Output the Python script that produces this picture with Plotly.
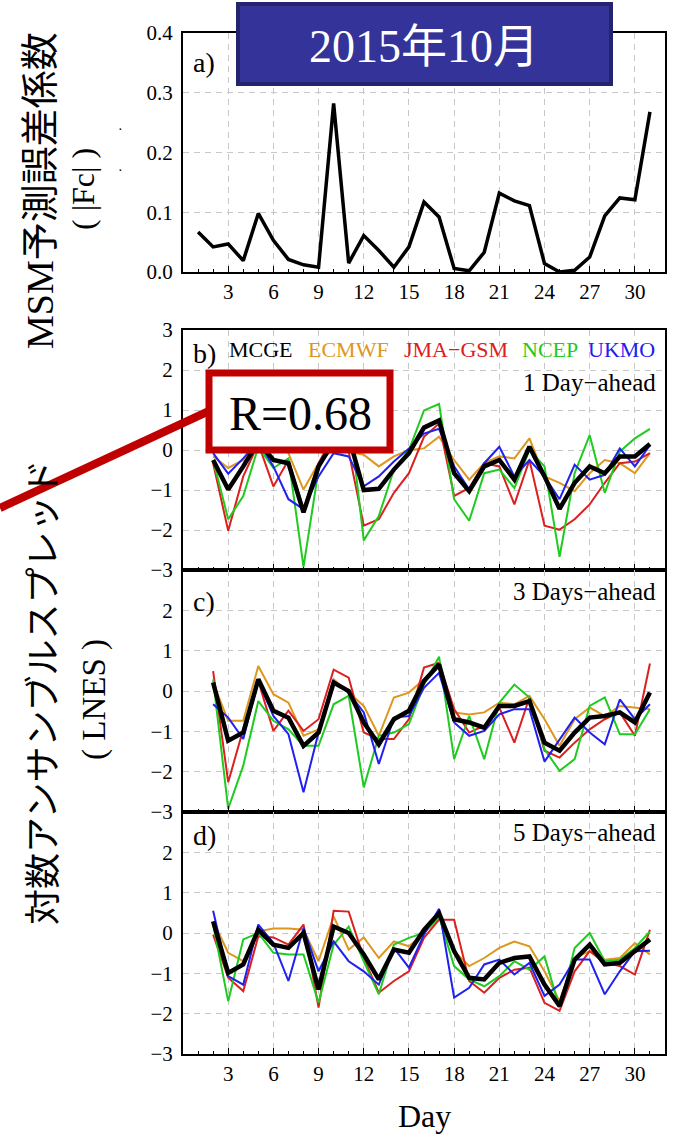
import plotly.graph_objects as go

# ---------------- data ----------------
days_a = list(range(1, 32))
fc_a = [0.067, 0.042, 0.047, 0.019, 0.098, 0.053, 0.021, 0.012, 0.008, 0.282,
        0.015, 0.061, 0.036, 0.008, 0.042, 0.117, 0.092, 0.006, 0.002, 0.033,
        0.132, 0.119, 0.111, 0.014, 0.000, 0.003, 0.025, 0.094, 0.124, 0.121, 0.268]

days = list(range(2, 32))

# panel b: 1 Day-ahead
b_mcge = [-0.25, -0.99, -0.41, 0.21, -0.25, -0.33, -1.56, -0.41, 0.21, 0.33,
          -1.00, -0.97, -0.49, -0.08, 0.56, 0.74, -0.58, -1.03, -0.41, -0.25,
          -0.74, 0.08, -0.66, -1.47, -0.82, -0.41, -0.58, -0.16, -0.16, 0.15]
b_ecmwf = [-0.16, -0.45, -0.25, 0.33, 0.37, -0.08, -0.99, -0.33, 0.04, -0.04,
           -0.12, -0.41, -0.16, 0.00, 0.04, 0.33, -0.25, -0.74, -0.33, -0.16,
           -0.21, 0.29, -0.66, -0.82, -1.03, -0.58, -0.25, -0.33, -0.58, -0.08]
b_jma = [-0.33, -2.02, -0.66, 0.16, -0.91, -0.25, -1.48, -0.33, 0.37, -0.04,
         -1.89, -1.73, -1.07, -0.58, 0.33, 0.66, -1.15, -0.95, -0.33, -0.41,
         -1.36, -0.25, -1.89, -1.99, -1.73, -1.36, -0.82, -0.33, -0.29, -0.08]
b_ncep = [-0.25, -1.73, -1.15, 0.08, -0.45, -0.21, -2.92, -0.49, 0.45, 0.99,
          -2.26, -1.65, -0.49, 0.00, 0.99, 1.15, -1.23, -1.77, -0.58, -0.49,
          -0.95, 0.00, -0.41, -2.67, -0.58, 0.37, -1.07, -0.04, 0.29, 0.53]
b_ukmo = [-0.08, -0.59, -0.21, 0.21, -0.41, -1.23, -1.48, -0.66, -0.08, -0.16,
          -0.91, -0.66, -0.29, 0.04, 0.41, 0.53, -0.41, -0.99, -0.33, 0.08,
          -0.66, -0.25, -0.66, -1.23, -0.37, -0.74, -0.62, 0.04, -0.41, 0.12]

# panel c: 3 Days-ahead
c_mcge = [0.21, -1.23, -1.03, 0.29, -0.49, -0.66, -1.36, -1.03, 0.21, 0.00,
          -0.78, -1.32, -0.70, -0.49, 0.25, 0.66, -0.70, -0.78, -0.91, -0.37,
          -0.37, -0.25, -1.28, -1.48, -1.03, -0.66, -0.62, -0.53, -0.78, -0.04]
c_ecmwf = [0.21, -0.74, -0.74, 0.62, -0.08, -0.29, -1.11, -0.95, 0.29, -0.04,
           -0.37, -1.11, -0.16, -0.04, 0.29, 0.66, -0.53, -0.58, -0.53, -0.29,
           -0.33, -0.12, -0.70, -1.36, -0.70, -0.41, -0.62, -0.37, -0.41, -0.45]
c_jma = [0.49, -2.26, -0.95, 0.25, -0.99, -0.49, -0.99, -0.70, 0.53, 0.33,
         -1.03, -1.19, -1.19, -0.70, 0.58, 0.70, -0.45, -1.03, -0.86, -0.41,
         -1.28, -0.16, -1.48, -1.65, -1.28, -0.95, -0.70, -0.53, -1.11, 0.68]
c_ncep = [0.29, -2.92, -1.85, -0.25, -0.74, -0.95, -1.36, -1.36, -0.33, -0.12,
          -2.39, -1.11, -1.03, -0.82, 0.16, 0.85, -1.69, -0.62, -1.69, -0.29,
          0.16, -0.16, -1.44, -1.98, -1.69, -0.37, -0.16, -1.07, -1.07, -0.45]
c_ukmo = [-0.33, -0.66, -1.19, 0.25, -0.62, -1.07, -2.51, -1.03, 0.25, -0.04,
          -0.53, -1.81, -0.66, -0.62, 0.08, 0.45, -0.78, -1.11, -0.99, -0.58,
          -0.45, -0.45, -1.75, -1.19, -0.66, -1.03, -1.32, -0.21, -0.70, -0.33]

# panel d: 5 Days-ahead
d_mcge = [0.29, -0.99, -0.78, 0.08, -0.29, -0.37, 0.00, -1.40, 0.16, 0.00,
          -0.53, -1.15, -0.41, -0.49, 0.08, 0.49, -0.45, -1.11, -1.15, -0.74,
          -0.62, -0.58, -1.28, -1.81, -0.66, -0.29, -0.78, -0.74, -0.45, -0.16]
d_ecmwf = [0.29, -0.49, -0.70, 0.04, 0.11, 0.11, 0.08, -0.70, 0.41, -0.41,
           -0.11, -0.62, -0.21, -0.33, 0.00, 0.37, -0.45, -0.82, -0.62, -0.37,
           -0.21, -0.33, -0.95, -1.69, -0.62, -0.45, -0.66, -0.62, -0.25, -0.53]
d_jma = [-0.04, -1.11, -1.44, -0.08, -0.11, -0.29, 0.21, -1.85, 0.55, 0.53,
         -0.62, -1.48, -1.19, -0.95, -0.12, 0.33, 0.33, -1.19, -1.48, -1.11,
         -0.91, -0.86, -1.73, -1.93, -0.95, -0.45, -0.74, -0.82, -1.03, 0.08]
d_ncep = [0.21, -1.69, -0.16, 0.00, -0.49, -0.53, -0.53, -1.73, -0.29, 0.16,
          -0.70, -1.52, -0.29, -0.12, 0.00, 0.41, -0.82, -1.15, -1.32, -1.07,
          -0.70, -0.91, -0.58, -1.85, -0.37, 0.00, -0.70, -0.66, -0.37, 0.04]
d_ukmo = [0.55, -1.07, -1.28, 0.21, -0.25, -1.19, 0.12, -0.95, -0.21, -0.70,
          -0.95, -1.28, -0.37, -0.86, -0.04, 0.60, -1.60, -1.36, -0.78, -0.66,
          -1.03, -0.74, -1.56, -1.28, -0.66, -0.66, -1.52, -0.95, -0.45, -0.44]

model_names = ["ECMWF", "JMA\u2212GSM", "NCEP", "UKMO"]
model_colors = ["#DE961E", "#DC2020", "#1FCB1F", "#2020F0"]
x_ticks = [3, 6, 9, 12, 15, 18, 21, 24, 27, 30]
ya_ticks = [0.0, 0.1, 0.2, 0.3, 0.4]
yb_ticks = [-3, -2, -1, 0, 1, 2, 3]
ycd_ticks = [-3, -2, -1, 0, 1, 2]

# ---------------- figure ----------------
W, H = 674, 1138
SERIF = "Liberation Serif"
CJK = "Liberation Serif, Noto Sans CJK JP"


def px(x):
    return x / W


def py(y):
    return 1 - y / H


fig = go.Figure()

# panel a
fig.add_trace(go.Scatter(x=days_a, y=fc_a, mode="lines",
                         line=dict(color="black", width=3.5),
                         xaxis="x", yaxis="y", showlegend=False))

panels = [
    ("x2", "y2", [b_ecmwf, b_jma, b_ncep, b_ukmo], b_mcge),
    ("x3", "y3", [c_ecmwf, c_jma, c_ncep, c_ukmo], c_mcge),
    ("x4", "y4", [d_ecmwf, d_jma, d_ncep, d_ukmo], d_mcge),
]
for xa, ya, series, mc in panels:
    for name, col, s in zip(model_names, model_colors, series):
        fig.add_trace(go.Scatter(x=days, y=s, mode="lines", name=name,
                                 line=dict(color=col, width=2),
                                 xaxis=xa, yaxis=ya, showlegend=False))
    fig.add_trace(go.Scatter(x=days, y=mc, mode="lines", name="MCGE",
                             line=dict(color="black", width=4.5),
                             xaxis=xa, yaxis=ya, showlegend=False))

xdom = [px(183), px(665)]
grid = dict(showgrid=True, gridcolor="#C8C8C8", gridwidth=1, griddash="6px,5px",
            zeroline=False, showline=True, linecolor="black", linewidth=2,
            mirror=True, automargin=False)


def xaxis_def(anchor, show_labels):
    d = dict(domain=xdom, range=[0, 32], anchor=anchor, tickvals=x_ticks,
             ticks="inside", ticklen=6, tickcolor="black", tickwidth=1,
             minor=dict(dtick=1, ticks="inside", ticklen=3, tickcolor="black",
                        showgrid=False),
             showticklabels=show_labels,
             tickfont=dict(family=SERIF, size=21, color="black"), **grid)
    return d


def yaxis_def(anchor, dom, rng, vals, fmt):
    return dict(domain=dom, range=rng, anchor=anchor, tickvals=vals,
                tickformat=fmt, ticks="", ticklabelstandoff=4,
                tickfont=dict(family=SERIF, size=21, color="black"), **grid)


fig.update_layout(
    width=W, height=H, autosize=False,
    margin=dict(l=0, r=0, t=0, b=0, pad=0, autoexpand=False),
    paper_bgcolor="white", plot_bgcolor="white",
    xaxis=xaxis_def("y", True),
    xaxis2=xaxis_def("y2", False),
    xaxis3=xaxis_def("y3", False),
    xaxis4=xaxis_def("y4", True),
    yaxis=yaxis_def("x", [py(272), py(33)], [0, 0.4], ya_ticks, ".1f"),
    yaxis2=yaxis_def("x2", [py(570), py(330)], [-3, 3], yb_ticks, "d"),
    yaxis3=yaxis_def("x3", [py(812), py(570)], [-3, 3], ycd_ticks, "d"),
    yaxis4=yaxis_def("x4", [py(1054), py(812)], [-3, 3], ycd_ticks, "d"),
)

ann = []


def text(x, y, s, size, color="black", xanchor="center", family=SERIF, angle=0):
    ann.append(dict(x=px(x), y=py(y), xref="paper", yref="paper", text=s,
                    showarrow=False, xanchor=xanchor, yanchor="middle",
                    textangle=angle,
                    font=dict(family=family, size=size, color=color)))


# panel letters
text(191, 63, "a)", 28, xanchor="left")
text(191, 353, "b)", 28, xanchor="left")
text(191, 601, "c)", 28, xanchor="left")
text(191, 835, "d)", 28, xanchor="left")

# lead-time labels
text(658, 382, "1 Day\u2212ahead", 25, xanchor="right")
text(658, 591, "3 Days\u2212ahead", 25, xanchor="right")
text(658, 832, "5 Days\u2212ahead", 25, xanchor="right")

# legend words
legend_words = ["MCGE"] + model_names
legend_colors = ["black"] + model_colors
legend_x = [227, 306, 402, 520, 586]
for w, c, lx in zip(legend_words, legend_colors, legend_x):
    text(lx, 349, w, 22, color=c, xanchor="left")

# axis titles
text(424, 1116, "Day", 32)
text(40, 191, "MSM予測誤差係数", 38, family=CJK, angle=-90)
text(83, 189, "( |Fc| )", 32, family=SERIF, angle=-90)
text(44, 693, "対数アンサンブルスプレッド", 36, family=CJK, angle=-90)
text(94, 700, "( LNES )", 33, family=SERIF, angle=-90)
text(120, 130, "·", 14)
text(120, 170, "·", 14)

# title box text
text(424, 46, "2015年10月", 46, color="white", family=CJK)
# R box text
text(300, 413, "R=0.68", 48)

fig.update_layout(annotations=ann)

shapes = [
    # title box
    dict(type="rect", xref="paper", yref="paper", x0=px(238), x1=px(611),
         y0=py(84), y1=py(4), fillcolor="#333399",
         line=dict(color="#24246E", width=4), layer="above"),
    # red connector
    dict(type="line", xref="paper", yref="paper", x0=0, y0=py(508),
         x1=px(209), y1=py(411), line=dict(color="#C00000", width=8),
         layer="above"),
    # R box
    dict(type="rect", xref="paper", yref="paper", x0=px(209), x1=px(390),
         y0=py(450), y1=py(373), fillcolor="white",
         line=dict(color="#C00000", width=7), layer="above"),
]
fig.update_layout(shapes=shapes)

fig.write_html("out.html")
